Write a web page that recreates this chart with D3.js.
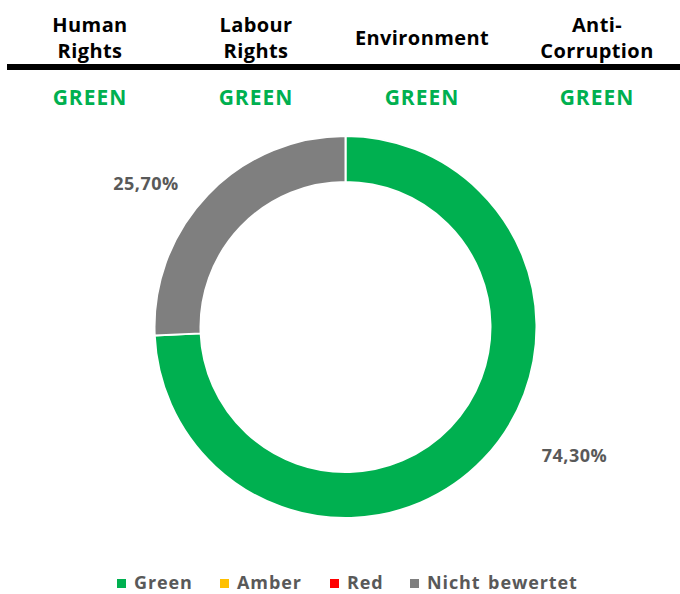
<!DOCTYPE html>
<html>
<head>
<meta charset="utf-8">
<script src="https://cdn.jsdelivr.net/npm/d3@7"></script>
<style>
  body { margin: 0; background: #fff; }
  text { font-family: "Open Sans", Lato, sans-serif; }
</style>
</head>
<body>
<div class="chartWrap"></div>
<script>
var width = 680,
  height = 594;

// header columns
var principles = [['Human', 'Rights'], ['Labour', 'Rights'], ['Environment'], ['Anti-', 'Corruption']],
  ratings = ['GREEN', 'GREEN', 'GREEN', 'GREEN'];

// donut data
var slices = ['Green', 'Nicht bewertet'],
  shares = [74.3, 25.7],
  shareLabels = ['74,30%', '25,70%'];

// legend
var legendNames = ['Green', 'Amber', 'Red', 'Nicht bewertet'],
  legendColors = ['#00b050', '#ffc000', '#ff0000', '#7f7f7f'];

var colorOf = d3.scaleOrdinal().domain(legendNames).range(legendColors);

var svg = d3.select('.chartWrap')
  .append('svg')
  .attr('width', width)
  .attr('height', height);

// columns across the top
var colX = [90, 256, 422, 597];

var head = svg.selectAll('.head')
  .data(principles)
  .enter()
  .append('text')
  .attr('class', 'head')
  .attr('text-anchor', 'middle')
  .attr('x', function(d, i) { return colX[i]; })
  .attr('y', function(d) { return d.length == 1 ? 45 : 32; })
  .style('font-size', '20px')
  .style('font-weight', 'bold')
  .style('letter-spacing', '0.4px')
  .style('fill', '#000');

head.selectAll('tspan')
  .data(function(d) { return d; })
  .enter()
  .append('tspan')
  .attr('x', function() { return d3.select(this.parentNode).attr('x'); })
  .attr('dy', function(d, i) { return i ? 26 : 0; })
  .text(function(d) { return d; });

svg.append('rect')
  .attr('x', 7)
  .attr('y', 64)
  .attr('width', width - 7)
  .attr('height', 6)
  .style('fill', '#000');

svg.selectAll('.rating')
  .data(ratings)
  .enter()
  .append('text')
  .attr('class', 'rating')
  .attr('text-anchor', 'middle')
  .attr('x', function(d, i) { return colX[i]; })
  .attr('y', 105)
  .style('font-size', '21px')
  .style('font-weight', 'bold')
  .style('letter-spacing', '1px')
  .style('fill', '#00b050')
  .text(function(d) { return d; });

// donut
var cx = 345.5, cy = 327, rOuter = 191, rInner = 145;

var pie = d3.pie().sort(null).value(function(d) { return d.v; });
var arc = d3.arc().innerRadius(rInner).outerRadius(rOuter);

var pieData = pie(slices.map(function(s, i) { return {name: s, v: shares[i], label: shareLabels[i]}; }));

var g = svg.append('g').attr('transform', 'translate(' + cx + ',' + cy + ')');

g.selectAll('path')
  .data(pieData)
  .enter()
  .append('path')
  .attr('d', arc)
  .style('fill', function(d) { return colorOf(d.data.name); })
  .style('stroke', '#fff')
  .style('stroke-width', 2);

// labels sit outside the ring
var labelPos = [[229, 135], [-199.5, -137]];
g.selectAll('.pct')
  .data(pieData)
  .enter()
  .append('text')
  .attr('class', 'pct')
  .attr('text-anchor', 'middle')
  .attr('x', function(d, i) { return labelPos[i][0]; })
  .attr('y', function(d, i) { return labelPos[i][1]; })
  .style('font-size', '18px')
  .style('font-weight', 'bold')
  .style('letter-spacing', '0.5px')
  .style('fill', '#595959')
  .text(function(d) { return d.data.label; });

// legend
var legX = [117, 220, 330, 410];
var leg = svg.selectAll('.leg')
  .data(legendNames)
  .enter()
  .append('g')
  .attr('class', 'leg')
  .attr('transform', function(d, i) { return 'translate(' + legX[i] + ',579)'; });

leg.append('rect')
  .attr('width', 9)
  .attr('height', 9)
  .style('fill', function(d) { return colorOf(d); });

leg.append('text')
  .attr('x', 17)
  .attr('y', 10)
  .style('font-size', '18px')
  .style('font-weight', 'bold')
  .style('letter-spacing', '0.9px')
  .style('word-spacing', '2px')
  .style('fill', '#595959')
  .text(function(d) { return d; });
</script>
</body>
</html>
